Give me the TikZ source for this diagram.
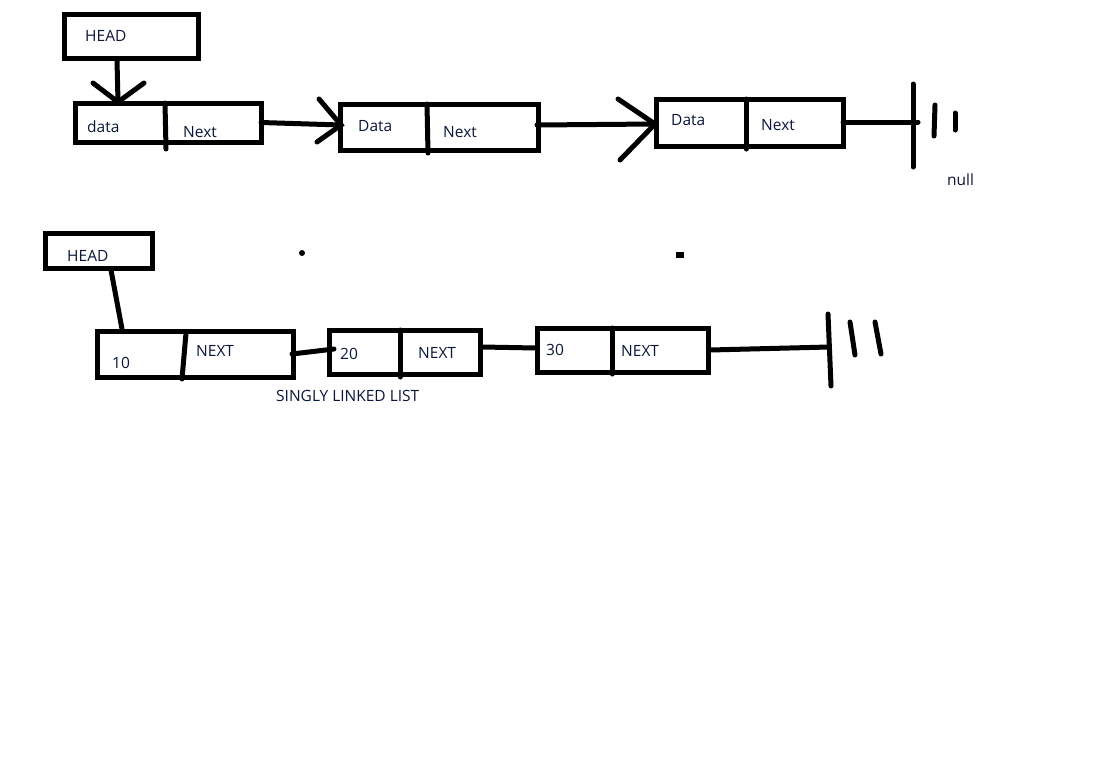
\documentclass[tikz,border=0pt]{standalone}
\usepackage{fontspec}
\setmainfont{Open Sans}
\definecolor{ink}{RGB}{12,22,58}
\begin{document}
\begin{tikzpicture}[x=1pt,y=-1pt,
  pen/.style={line width=5pt,line cap=round,line join=miter},
  cell/.style={draw,line width=5pt,inner sep=0pt,outer sep=0pt,anchor=north west},
  lbl/.style={text=ink,font=\fontsize{15.5}{17}\selectfont,inner sep=0pt,anchor=west}]
\useasboundingbox[fill=white] (0,0) rectangle (1098,772);

% ---------- upper list ----------
\node[cell,minimum width=134pt,minimum height=44pt] (headA) at (64,14) {};
\node[lbl] (headAt) at (85,36) {HEAD};

\node[cell,minimum width=186pt,minimum height=39pt] (a1) at (75,103) {};
\node[cell,minimum width=198pt,minimum height=46pt] (a2) at (340,104) {};
\node[cell,minimum width=187pt,minimum height=47pt] (a3) at (656,99) {};

\node[lbl] (a1d) at (87,127) {data};
\node[lbl] (a1n) at (183,132) {Next};
\node[lbl] (a2d) at (358,126) {Data};
\node[lbl] (a2n) at (443,132) {Next};
\node[lbl] (a3d) at (671,120) {Data};
\node[lbl] (a3n) at (761,125) {Next};

% dividers between data and next fields
\draw[pen] (165,103) -- (166,149);
\draw[pen] (427,104) -- (428,153);
\draw[pen] (746,99) -- (746,149);

% head pointer with open arrowhead
\coordinate (p0) at (118,102);
\draw[pen] (117,60) -- (p0);
\draw[pen] (93,83) -- (p0) -- (144,83);

% links
\coordinate (p1) at (341,125);
\draw[pen] (a1.east) -- (p1);
\draw[pen] (319,99) -- (p1) -- (317,142);
\coordinate (p2) at (655,124);
\draw[pen] (537,125) -- (p2);
\draw[pen] (618,99) -- (p2) -- (620,160);

% null terminator
\coordinate (g1) at (918,122);
\draw[pen] (a3.east |- 0,122) -- (g1);
\draw[pen] (913,84) -- (913,167);
\draw[pen] (935,105) -- (934,136);
\draw[pen] (955,113) -- (955,130);
\node[lbl] (nullt) at (947,180) {null};

% ---------- lower list ----------
\node[cell,minimum width=107pt,minimum height=35pt] (headB) at (45,233) {};
\node[lbl] (headBt) at (67,256) {HEAD};

\node[cell,minimum width=196pt,minimum height=46pt] (b1) at (97,331) {};
\node[cell,minimum width=151pt,minimum height=44pt] (b2) at (329,330) {};
\node[cell,minimum width=171pt,minimum height=44pt] (b3) at (537,328) {};

\draw[pen] (186,333) -- (182,379);
\draw[pen] (400,330) -- (400,377);
\draw[pen] (612,328) -- (612,374);

\node[lbl] (b1d) at (112,363) {10};
\node[lbl] (b1n) at (196,351) {NEXT};
\node[lbl] (b2d) at (340,354) {20};
\node[lbl] (b2n) at (418,353) {NEXT};
\node[lbl] (b3d) at (546,350) {30};
\node[lbl] (b3n) at (621,351) {NEXT};

\draw[pen] (111,270) -- (122,329);
\draw[pen] (292,354) -- (334,349);
\draw[pen] (482,347) -- (536,348);
\coordinate (g2) at (829,347);
\draw[pen] (710,350) -- (g2);
\draw[pen] (828,314) -- (831,386);
\draw[pen] (850,322) -- (855,355);
\draw[pen] (875,322) -- (881,354);

\node[lbl] (title) at (276,396) {SINGLY LINKED LIST};

% stray marks
\fill (302,253) circle (3pt);
\fill (676,252) rectangle (684,258);
\end{tikzpicture}
\end{document}
